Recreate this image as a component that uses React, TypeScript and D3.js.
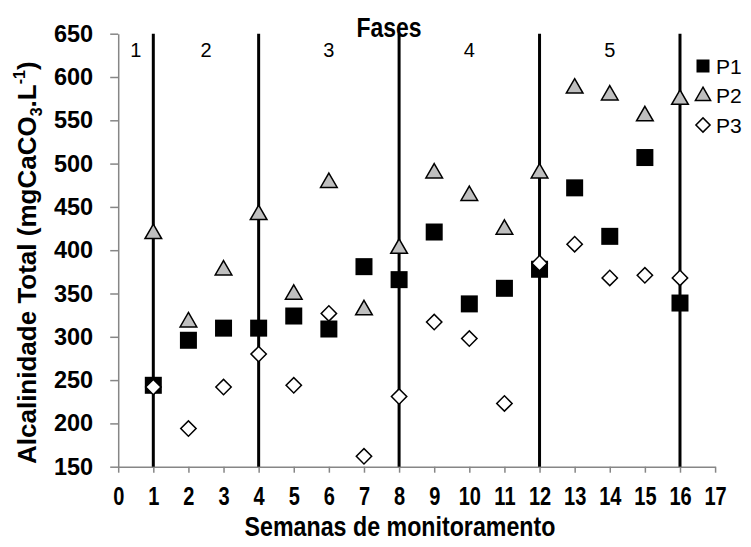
import React, { useEffect, useRef } from 'react';
import * as d3 from 'd3';

// weeks of monitoring
const weeks = [1, 2, 3, 4, 5, 6, 7, 8, 9, 10, 11, 12, 13, 14, 15, 16];
const p1 = [244, 296, 310, 310, 324, 309, 381, 366, 421, 338, 356, 378, 472, 416, 507, 339];
const p2 = [419, 317, 377, 441, 349, 478, 331, 402, 489, 463, 424, 489, 587, 579, 555, 574];
const p3 = [242, 194, 242, 280, 244, 327, 162, 231, 317, 298, 223, 385, 407, 368, 371, 368];

const xTicks = [0, 1, 2, 3, 4, 5, 6, 7, 8, 9, 10, 11, 12, 13, 14, 15, 16, 17];
const yTicks = [150, 200, 250, 300, 350, 400, 450, 500, 550, 600, 650];

// phase limits (weeks) and labels
const phaseBounds = [0, 1, 4, 8, 12, 16];
const phaseLabels = ['1', '2', '3', '4', '5'];

const W = 751;
const H = 547;
const FONT = 'Liberation Sans, Arial, sans-serif';

const App = () => {
  const ref = useRef<SVGSVGElement>(null);

  useEffect(() => {
    const svg = d3.select(ref.current);
    svg.selectAll('*').remove();

    const x = d3.scaleLinear().domain([0, 17]).range([118.2, 715.1]);
    const y = d3.scaleLinear().domain([150, 650]).range([466.7, 33.7]);
    const axisColor = '#868686';

    // y axis
    const gy = svg.append('g').attr('transform', `translate(${x(0)},0)`)
      .call(d3.axisLeft(y).tickValues(yTicks).tickSize(8).tickSizeOuter(0).tickPadding(17));
    gy.select('.domain').attr('stroke', axisColor).attr('stroke-width', 1.5);
    gy.selectAll('.tick line').attr('stroke', axisColor).attr('stroke-width', 1.5);
    gy.selectAll('.tick text')
      .attr('font-family', FONT)
      .attr('font-weight', 'bold')
      .attr('font-size', 23.5)
      .attr('fill', '#000');

    // x axis (condensed bold labels)
    const gx = svg.append('g').attr('transform', `translate(0,${y(150)})`)
      .call(d3.axisBottom(x).tickValues(xTicks).tickSize(6).tickSizeOuter(0).tickPadding(10));
    gx.select('.domain').attr('stroke', axisColor).attr('stroke-width', 1.5);
    gx.selectAll('.tick line').attr('stroke', axisColor).attr('stroke-width', 1.5);
    gx.selectAll('.tick text')
      .attr('font-family', FONT)
      .attr('font-weight', 'bold')
      .attr('font-size', 25)
      .attr('fill', '#000')
      .attr('dy', 0)
      .attr('y', 38)
      .attr('transform', 'scale(0.8,1)');

    // phase separators
    svg.append('g').selectAll('line')
      .data(phaseBounds.slice(1))
      .enter()
      .append('line')
      .attr('x1', (d) => x(d)).attr('x2', (d) => x(d))
      .attr('y1', y(650)).attr('y2', y(150))
      .attr('stroke', '#000').attr('stroke-width', 3);

    svg.append('g').selectAll('text')
      .data(phaseLabels)
      .enter()
      .append('text')
      .attr('x', (d, i) => x((phaseBounds[i] + phaseBounds[i + 1]) / 2))
      .attr('y', 57)
      .attr('text-anchor', 'middle')
      .attr('font-family', FONT)
      .attr('font-size', 20)
      .text((d) => d);

    svg.append('text')
      .attr('transform', 'translate(389,37) scale(0.85,1)')
      .attr('text-anchor', 'middle')
      .attr('font-family', FONT)
      .attr('font-weight', 'bold')
      .attr('font-size', 27)
      .text('Fases');

    const sq = 17;
    const tri = d3.symbol().type(d3.symbolTriangle).size(120);
    const dia = d3.symbol().type(d3.symbolSquare).size(118);

    // P1 squares
    svg.append('g').selectAll('rect')
      .data(weeks)
      .enter()
      .append('rect')
      .attr('x', (d) => x(d) - sq / 2)
      .attr('y', (d, i) => y(p1[i]) - sq / 2)
      .attr('width', sq).attr('height', sq)
      .attr('fill', '#000');

    // P2 triangles
    svg.append('g').selectAll('path')
      .data(weeks)
      .enter()
      .append('path')
      .attr('d', tri)
      .attr('transform', (d, i) => `translate(${x(d)},${y(p2[i])})`)
      .attr('fill', '#bfbfbf').attr('stroke', '#000').attr('stroke-width', 1.5);

    // P3 diamonds
    svg.append('g').selectAll('path')
      .data(weeks)
      .enter()
      .append('path')
      .attr('d', dia)
      .attr('transform', (d, i) => `translate(${x(d)},${y(p3[i])}) rotate(45)`)
      .attr('fill', '#fff').attr('stroke', '#000').attr('stroke-width', 1.5);

    // legend
    const lg = svg.append('g').attr('transform', 'translate(703,0)');
    lg.append('rect').attr('x', -6.5).attr('y', 66 - 6.5).attr('width', 13).attr('height', 13).attr('fill', '#000');
    lg.append('path').attr('d', d3.symbol().type(d3.symbolTriangle).size(100))
      .attr('transform', 'translate(0,96)')
      .attr('fill', '#bfbfbf').attr('stroke', '#000').attr('stroke-width', 1.5);
    lg.append('path').attr('d', d3.symbol().type(d3.symbolSquare).size(100))
      .attr('transform', 'translate(0,125) rotate(45)')
      .attr('fill', '#fff').attr('stroke', '#000').attr('stroke-width', 1.5);
    lg.selectAll('text.leg')
      .data(['P1', 'P2', 'P3'])
      .enter()
      .append('text')
      .attr('x', 13)
      .attr('y', (d, i) => 66 + i * 29.5)
      .attr('dy', '0.36em')
      .attr('font-family', FONT)
      .attr('font-size', 21)
      .text((d) => d);

    // axis titles
    svg.append('text')
      .attr('transform', 'translate(400,536) scale(0.86,1)')
      .attr('text-anchor', 'middle')
      .attr('font-family', FONT)
      .attr('font-weight', 'bold')
      .attr('font-size', 27)
      .text('Semanas de monitoramento');

    const yt = svg.append('text')
      .attr('transform', 'translate(36,464) rotate(-90)')
      .attr('text-anchor', 'start')
      .attr('font-family', FONT)
      .attr('font-weight', 'bold')
      .attr('font-size', 26);
    yt.append('tspan').text('Alcalinidade Total (mgCaCO');
    yt.append('tspan').attr('font-size', 16).attr('dy', 6).text('3');
    yt.append('tspan').attr('dy', -6).text('.L');
    yt.append('tspan').attr('font-size', 16).attr('dy', -11).text('-1');
    yt.append('tspan').attr('dy', 11).text(')');
  }, []);

  return (
    <svg ref={ref} width={W} height={H} style={{ position: 'absolute', left: 0, top: 0, background: '#fff' }} />
  );
};

export default App;
